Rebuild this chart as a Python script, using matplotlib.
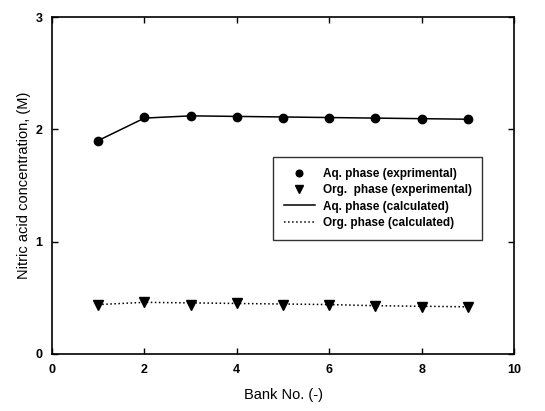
import matplotlib
matplotlib.use("Agg")
import matplotlib.pyplot as plt

plt.rcParams['font.family'] = ['Liberation Sans', 'DejaVu Sans']

bank = [1, 2, 3, 4, 5, 6, 7, 8, 9]
aq_exp = [1.90, 2.11, 2.12, 2.11, 2.10, 2.10, 2.10, 2.09, 2.09]
org_exp = [0.44, 0.46, 0.44, 0.45, 0.44, 0.44, 0.43, 0.42, 0.42]
aq_calc = [1.90, 2.10, 2.12, 2.115, 2.11, 2.105, 2.10, 2.095, 2.09]
org_calc = [0.44, 0.46, 0.455, 0.45, 0.445, 0.44, 0.43, 0.425, 0.42]

xticks = [0, 2, 4, 6, 8, 10]
yticks = [0, 1, 2, 3]

fig = plt.figure(figsize=(5.45, 4.11), dpi=100)
ax = fig.add_axes([52/545, 1 - 354/411, 462/545, 337/411])

ax.plot(bank, aq_exp, 'o', color='black', markersize=6, label='Aq. phase (exprimental)')
ax.plot(bank, org_exp, 'v', color='black', markersize=6.5, label='Org.  phase (experimental)')
ax.plot(bank, aq_calc, '-', color='black', linewidth=1.1, label='Aq. phase (calculated)')
ax.plot(bank, org_calc, ':', color='black', linewidth=1.1, label='Org. phase (calculated)')

ax.set_xlim(0, 10)
ax.set_ylim(0, 3)
ax.set_xticks(xticks)
ax.set_yticks(yticks)
ax.tick_params(direction='in', top=True, right=True, length=4, width=1,
               labelsize=9, pad=7)
for lab in ax.get_xticklabels() + ax.get_yticklabels():
    lab.set_fontweight('bold')
for s in ax.spines.values():
    s.set_linewidth(1.2)

ax.set_xlabel('Bank No. (-)', fontsize=10.5, labelpad=9)
ax.set_ylabel('Nitric acid concentration, (M)', fontsize=10.5, labelpad=3)

leg = ax.legend(loc='upper left', bbox_to_anchor=(0.466, 0.602),
                frameon=True, fancybox=False, edgecolor='black', handlelength=2.6,
                borderpad=0.9, labelspacing=0.38, handletextpad=0.7, markerscale=0.8,
                prop={'weight': 'bold', 'size': 8.5})
leg.get_frame().set_linewidth(1.0)

fig.savefig('out.png', dpi=100)
